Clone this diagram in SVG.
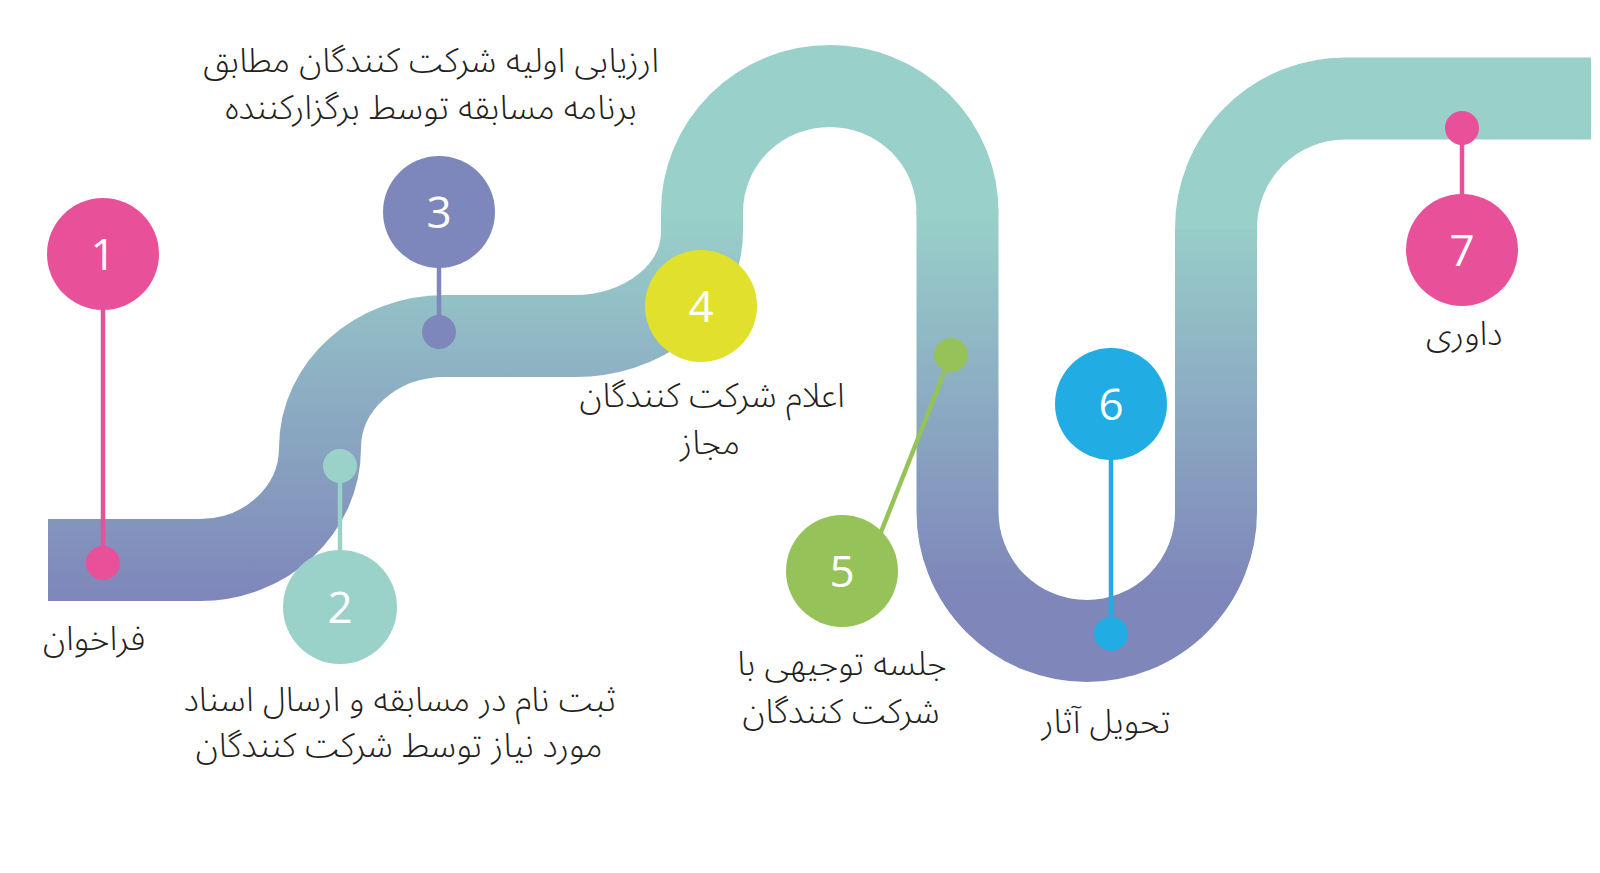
<svg xmlns="http://www.w3.org/2000/svg" width="1600" height="873" viewBox="0 0 1600 873">
<style>
.road{fill:none;stroke-width:82;stroke-linecap:butt}
.num{font-family:"Open Sans","Noto Sans","DejaVu Sans",sans-serif;font-size:44px;fill:#fff;text-anchor:middle}
.lbl{font-family:"Noto Sans Arabic","DejaVu Sans",sans-serif;font-size:34px;fill:#231f20;text-anchor:middle;font-weight:300}
.stem{stroke-width:4.5;fill:none}
</style>
<defs>
<linearGradient id="g1" gradientUnits="userSpaceOnUse" x1="0" y1="210" x2="0" y2="600">
<stop offset="0" stop-color="#99d1ca"/><stop offset="1" stop-color="#7e86ba"/>
</linearGradient>
<linearGradient id="g2" gradientUnits="userSpaceOnUse" x1="0" y1="210" x2="0" y2="590">
<stop offset="0" stop-color="#99d1ca"/><stop offset="1" stop-color="#7e86ba"/>
</linearGradient>
</defs>
<rect width="1600" height="873" fill="#fff"/>
<g id="road">
<path class="road" stroke="url(#g1)" d="M48,560 H200 C266,560 320,510 320,448 C320,386 376,336 445,336 H575 A127,104 0 0 0 702,232 V211"/>
<path class="road" stroke="#99d1ca" d="M702,213 V212 A127.75,126 0 0 1 957.5,212 V214"/>
<path class="road" stroke="url(#g2)" d="M957.5,211 V512 A129.25,129 0 0 0 1216,512 V227"/>
<path class="road" stroke="#99d1ca" d="M1216,229 V228 A129,129.5 0 0 1 1345,98.5 H1591"/>
</g>
<g id="connectors">
<line class="stem" stroke="#e8519a" x1="103" y1="254" x2="103" y2="563"/>
<line class="stem" stroke="#9ad2ca" x1="340" y1="466" x2="340" y2="607"/>
<line class="stem" stroke="#7e87bb" x1="439" y1="212" x2="439" y2="332"/>
<line class="stem" stroke="#95c35a" x1="951" y1="355" x2="870" y2="560"/>
<line class="stem" stroke="#21ade4" x1="1111" y1="404" x2="1111" y2="634"/>
<line class="stem" stroke="#e8519a" x1="1462" y1="128" x2="1462" y2="250"/>
</g>
<g id="node1">
<circle cx="103" cy="563" r="17" fill="#e8519a"/>
<circle cx="103" cy="254" r="56" fill="#e8519a"/>
<text class="num" x="103" y="270">1</text>
<text class="lbl" x="94" y="650">فراخوان</text>
</g>
<g id="node2">
<circle cx="340" cy="466" r="17" fill="#9ad2ca"/>
<circle cx="340" cy="607" r="57" fill="#9ad2ca"/>
<text class="num" x="340" y="623">2</text>
<text class="lbl"><tspan x="400" y="711">ثبت نام در مسابقه و ارسال اسناد</tspan><tspan x="399" y="757">مورد نیاز توسط شرکت کنندگان</tspan></text>
</g>
<g id="node3">
<circle cx="439" cy="332" r="17" fill="#7e87bb"/>
<circle cx="439" cy="212" r="56" fill="#7e87bb"/>
<text class="num" x="439" y="228">3</text>
<text class="lbl"><tspan x="431" y="72">ارزیابی اولیه شرکت کنندگان مطابق</tspan><tspan x="431" y="119">برنامه مسابقه توسط برگزارکننده</tspan></text>
</g>
<g id="node4">
<circle cx="701" cy="306" r="56" fill="#e1e02d"/>
<text class="num" x="701" y="322">4</text>
<text class="lbl"><tspan x="712" y="407">اعلام شرکت کنندگان</tspan><tspan x="710" y="454">مجاز</tspan></text>
</g>
<g id="node5">
<circle cx="951" cy="355" r="17" fill="#95c35a"/>
<circle cx="842" cy="571" r="56" fill="#95c35a"/>
<text class="num" x="842" y="587">5</text>
<text class="lbl"><tspan x="842" y="675">جلسه توجیهی با</tspan><tspan x="841" y="723">شرکت کنندگان</tspan></text>
</g>
<g id="node6">
<circle cx="1111" cy="634" r="17" fill="#21ade4"/>
<circle cx="1111" cy="404" r="56" fill="#21ade4"/>
<text class="num" x="1111" y="420">6</text>
<text class="lbl" x="1106" y="733">تحویل آثار</text>
</g>
<g id="node7">
<circle cx="1462" cy="128" r="17" fill="#e8519a"/>
<circle cx="1462" cy="250" r="56" fill="#e8519a"/>
<text class="num" x="1462" y="266">7</text>
<text class="lbl" x="1464" y="345">داوری</text>
</g>
</svg>
